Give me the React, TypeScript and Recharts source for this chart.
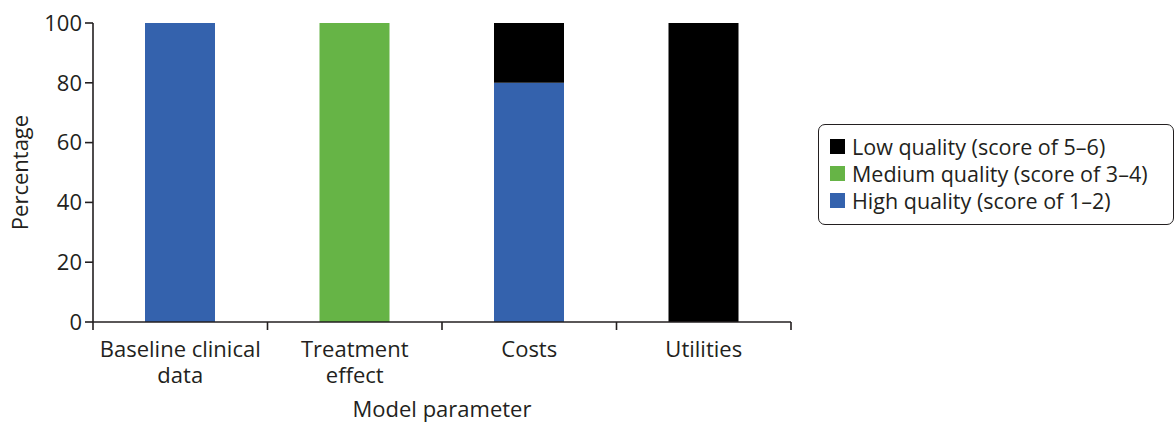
import { BarChart, Bar, XAxis, YAxis, Legend } from 'recharts';

const categories = ['Baseline clinical\ndata', 'Treatment\neffect', 'Costs', 'Utilities'];
const highQuality = [100, 0, 80, 0];
const mediumQuality = [0, 100, 0, 0];
const lowQuality = [0, 0, 20, 100];
const yTicks = [0, 20, 40, 60, 80, 100];

const series = [
    { key: 'low', name: 'Low quality (score of 5–6)', color: '#000000' },
    { key: 'medium', name: 'Medium quality (score of 3–4)', color: '#66b446' },
    { key: 'high', name: 'High quality (score of 1–2)', color: '#3462ad' },
];

const data = categories.map((c, i) => ({
    category: c,
    high: highQuality[i],
    medium: mediumQuality[i],
    low: lowQuality[i],
}));

const FONT = '"Open Sans", sans-serif';
const TEXT = '#231f20';
const FS = 22;
const PLOT_LEFT = 93;
const PLOT_RIGHT = 791;
const BAND = (PLOT_RIGHT - PLOT_LEFT) / categories.length;

function CategoryTick(props: any) {
    const { x, y, payload, index } = props;
    const lines = String(payload.value).split('\n');
    const left = x - BAND / 2;
    return (
        <g>
            <line x1={left} x2={left} y1={y} y2={y + 8} stroke={TEXT} strokeWidth={1.6} />
            {index === categories.length - 1 && (
                <line x1={x + BAND / 2} x2={x + BAND / 2} y1={y} y2={y + 8} stroke={TEXT} strokeWidth={1.6} />
            )}
            <text textAnchor="middle" fill={TEXT} fontSize={FS} fontFamily={FONT}>
                {lines.map((l, i) => (
                    <tspan key={i} x={x} y={y + 35 + i * 26}>{l}</tspan>
                ))}
            </text>
        </g>
    );
}

function QualityLegend() {
    return (
        <div
            style={{
                border: `1.6px solid ${TEXT}`,
                borderRadius: 7,
                padding: '8px 8px 8px 11px',
                fontFamily: FONT,
                fontSize: 21.5,
                color: TEXT,
                boxSizing: 'border-box',
                width: 356,
                height: 101,
            }}
        >
            {series.map((s) => (
                <div key={s.key} style={{ display: 'flex', alignItems: 'center', height: 27 }}>
                    <span style={{ width: 15, height: 15, background: s.color, marginRight: 7, flexShrink: 0 }} />
                    <span style={{ whiteSpace: 'nowrap' }}>{s.name}</span>
                </div>
            ))}
        </div>
    );
}

export default function App() {
    return (
        <div style={{ position: 'absolute', left: 0, top: 0, width: 1175, height: 422, background: '#fff' }}>
            <BarChart
                width={1175}
                height={422}
                data={data}
                margin={{ top: 23, right: 1175 - PLOT_RIGHT, bottom: 0, left: 20 }}
                barSize={70}
            >
                <XAxis
                    dataKey="category"
                    height={100}
                    interval={0}
                    tickSize={0}
                    tickMargin={0}
                    tickLine={false}
                    axisLine={{ stroke: TEXT, strokeWidth: 1.6 }}
                    tick={<CategoryTick />}
                    label={{
                        value: 'Model parameter',
                        position: 'insideBottom',
                        offset: 5,
                        fill: TEXT,
                        fontSize: FS,
                        fontFamily: FONT,
                    }}
                />
                <YAxis
                    width={73}
                    domain={[0, 100]}
                    ticks={yTicks}
                    interval={0}
                    tickSize={8}
                    tickMargin={3}
                    axisLine={{ stroke: TEXT, strokeWidth: 1.6 }}
                    tickLine={{ stroke: TEXT, strokeWidth: 1.6 }}
                    tick={{ fill: TEXT, fontSize: FS, fontFamily: FONT }}
                    label={{
                        value: 'Percentage',
                        angle: -90,
                        position: 'insideLeft',
                        offset: 0,
                        fill: TEXT,
                        fontSize: FS,
                        fontFamily: FONT,
                        style: { textAnchor: 'middle' },
                    }}
                />
                <Legend
                    layout="horizontal"
                    verticalAlign="middle"
                    align="center"
                    content={<QualityLegend />}
                    wrapperStyle={{ position: 'absolute', left: 818, top: 124, width: 356, height: 101 }}
                />
                <Bar dataKey="high" name={series[2].name} stackId="a" fill="#3462ad" isAnimationActive={false} />
                <Bar dataKey="medium" name={series[1].name} stackId="a" fill="#66b446" isAnimationActive={false} />
                <Bar dataKey="low" name={series[0].name} stackId="a" fill="#000000" isAnimationActive={false} />
            </BarChart>
        </div>
    );
}
